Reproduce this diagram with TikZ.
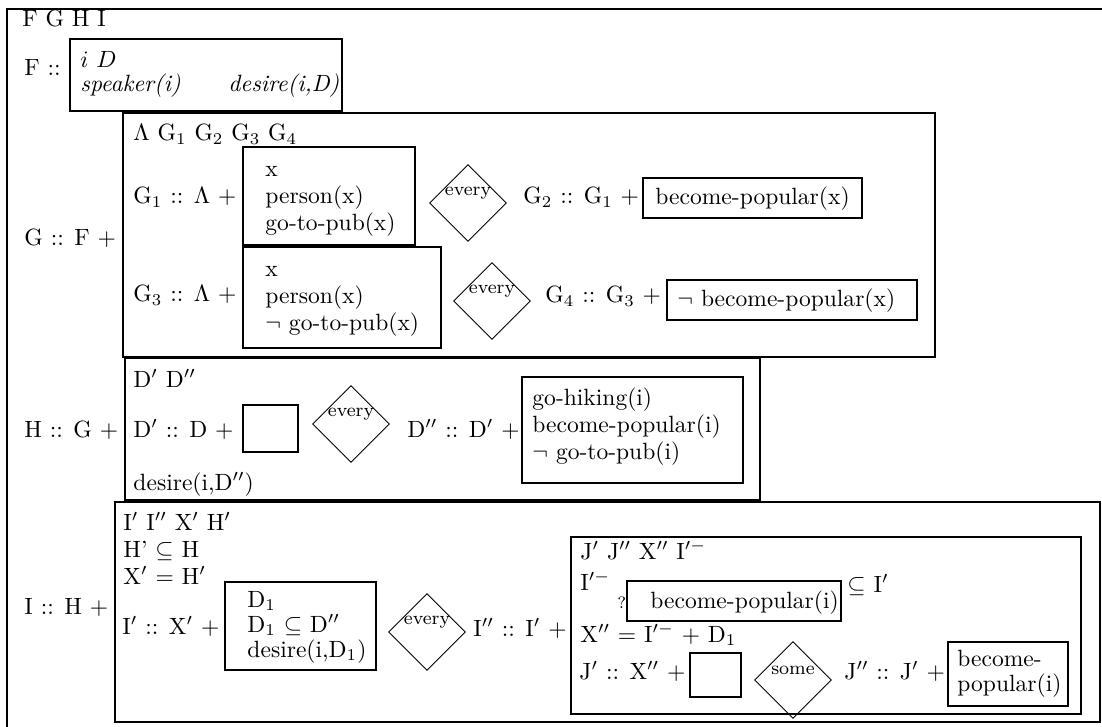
\documentclass[tikz,border=0pt]{standalone}
\usepackage{amssymb}
\usepackage{tikz}
\usetikzlibrary{fit}
\usetikzlibrary{shapes.geometric}

\begin{document}
\begin{tikzpicture}[x=0.425pt,y=-0.425pt,
  frame/.style={draw,thick,inner sep=0pt,fit={#1}},
  quant/.style={draw,diamond,inner sep=0pt,minimum size=32.7pt},
  qword/.style={font=\footnotesize,inner sep=0pt},
  txt/.style={anchor=base west,inner sep=0pt}]
 \useasboundingbox (0,0) rectangle (1102,727);
 \node[frame={(7,9) (1140,760)}] (outer) {};
 \node[txt] (hdr) at (22,27) {F G H I};
 % F
 \node[txt] (fl) at (24,76) {F ::};
 \node[frame={(70,39) (342,111)}] (fbox) {};
 \node[txt] (fref) at (80,68) {$i$ $D$};
 \node[txt] (fc1) at (80,92) {\textit{speaker(i)}};
 \node[txt] (fc2) at (228,92) {\textit{desire(i,D)}};
 % G
 \node[txt] (gl) at (24,246) {G :: F +};
 \node[frame={(123,113) (935,357)}] (gbox) {};
 \node[txt] (gref) at (133,141) {$\Lambda$ G$_1$ G$_2$ G$_3$ G$_4$};
 \node[txt] (g1l) at (133,204) {G$_1$ :: $\Lambda$ +};
 \node[frame={(243,147) (415,245)}] (g1box) {};
 \foreach \t [count=\i] in {x, person(x), go-to-pub(x)}
   \node[txt] (g1-\i) at (265,150+27*\i) {\t};
 \node[quant] (q1) at (468,203) {};
 \node[qword] (q1w) at ([yshift=4pt]q1.center) {every};
 \node[txt] (g2l) at (523,204) {G$_2$ :: G$_1$ +};
 \node[frame={(643,178) (862,218)}] (g2box) {};
 \node[txt] (g2c) at (655,205) {become-popular(x)};
 \node[txt] (g3l) at (133,302) {G$_3$ :: $\Lambda$ +};
 \node[frame={(243,247) (441,348)}] (g3box) {};
 \foreach \t [count=\i] in {x, person(x), $\neg$ go-to-pub(x)}
   \node[txt] (g3-\i) at (265,250+27*\i) {\t};
 \node[quant] (q2) at (492,301) {};
 \node[qword] (q2w) at ([yshift=4pt]q2.center) {every};
 \node[txt] (g4l) at (545,303) {G$_4$ :: G$_3$ +};
 \node[frame={(667,280) (917,320)}] (g4box) {};
 \node[txt] (g4c) at (677,307) {$\neg$ become-popular(x)};
 % H
 \node[txt] (hl) at (24,437) {H :: G +};
 \node[frame={(125,358) (760,500)}] (hbox) {};
 \node[txt] (href) at (133,387) {D$'$ D$''$};
 \node[txt] (h1l) at (133,437) {D$'$ :: D +};
 \node[frame={(243,405) (298,452)}] (h1box) {};
 \node[quant] (q3) at (351,424) {};
 \node[qword] (q3w) at ([yshift=4pt]q3.center) {every};
 \node[txt] (h2l) at (407,437) {D$''$ :: D$'$ +};
 \node[frame={(522,377) (743,483)}] (h2box) {};
 \foreach \t [count=\i] in {go-hiking(i), become-popular(i), $\neg$ go-to-pub(i)}
   \node[txt] (h2-\i) at (532,378+27*\i) {\t};
 \node[txt] (hc) at (133,490) {desire(i,D$''$)};
 % I
 \node[txt] (il) at (24,614) {I :: H +};
 \node[frame={(115,502) (1100,722)}] (ibox) {};
 \foreach \t [count=\i] in {I$'$ I$''$ X$'$ H$'$, H' $\subseteq$ H, X$'$ = H$'$}
   \node[txt] (iref-\i) at (123,503+27*\i) {\t};
 \node[txt] (i1l) at (122,634) {I$'$ :: X$'$ +};
 \node[frame={(225,582) (376,670)}] (i1box) {};
 \foreach \t [count=\i] in {D$_1$, D$_1$ $\subseteq$ D$''$, {desire(i,D$_1$)}}
   \node[txt] (i1-\i) at (247,582+25*\i) {\t};
 \node[quant] (q4) at (427,632) {};
 \node[qword] (q4w) at ([yshift=4pt]q4.center) {every};
 \node[txt] (i2l) at (473,636) {I$''$ :: I$'$ +};
 \node[frame={(571,537) (1081,714)}] (jbox) {};
 \node[txt] (jref) at (580,559) {J$'$ J$''$ X$''$ I$^{\prime -}$};
 \node[txt] (jm) at (580,590) {I$^{\prime -}$};
 \node[txt,font=\scriptsize] (jq) at (617,608) {?};
 \node[frame={(627,581) (841,621)}] (jpbox) {};
 \node[txt] (jp) at (650,608) {become-popular(i)};
 \node[txt] (jsub) at (847,592) {$\subseteq$ I$'$};
 \node[txt] (jx) at (580,642) {X$''$ = I$^{\prime -}$ + D$_1$};
 \node[txt] (j1l) at (579,679) {J$'$ :: X$''$ +};
 \node[frame={(690,653) (741,697)}] (j1box) {};
 \node[quant] (q5) at (793,680) {};
 \node[qword] (q5w) at ([yshift=4pt]q5.center) {some};
 \node[txt] (j2l) at (844,679) {J$''$ :: J$'$ +};
 \node[frame={(948,642) (1068,706)}] (j2box) {};
 \node[txt] (j2-1) at (957,666) {become-};
 \node[txt] (j2-2) at (957,691) {popular(i)};
\end{tikzpicture}
\end{document}
